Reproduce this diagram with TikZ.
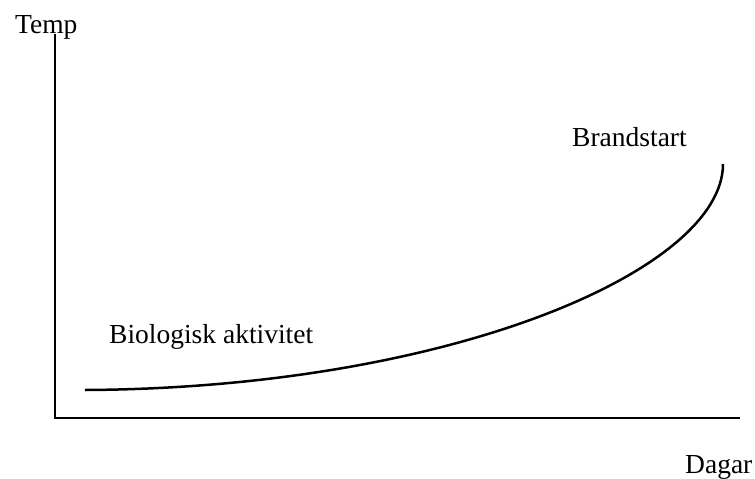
\documentclass[tikz,border=0pt]{standalone}
\usepackage{fontspec}
\setmainfont{Liberation Serif}
\usepackage{tikz}
\tikzstyle{axis}=[
        draw=black,
        line width=2pt
]
\tikzstyle{label}=[
        anchor=base west,
        inner sep=0pt,
        font=\fontsize{27.5}{33}\selectfont
]

\begin{document}
\begin{tikzpicture}[x=1pt,y=-1pt]
                    \useasboundingbox (0,0) rectangle (755,479);

                    \node[label] (temp) at (15,33) {Temp};
                    \node[label] (dagar) at (685,473) {Dagar};
                    \node[label] (brand) at (572,146) {Brandstart};
                    \node[label] (bio) at (109,343) {Biologisk aktivitet};

                    \coordinate (top) at (55,34);
                    \coordinate (origin) at (55,418);
                    \coordinate (right) at (740,418);

                    \draw[axis] (top) -- (origin) -- (right);

                    \coordinate (start) at (85,390);
                    \coordinate (end) at (723,164);
                    \draw[line width=2.5pt] (start) .. controls (450,388) and (723,270) .. (end);
                \end{tikzpicture}
\end{document}
